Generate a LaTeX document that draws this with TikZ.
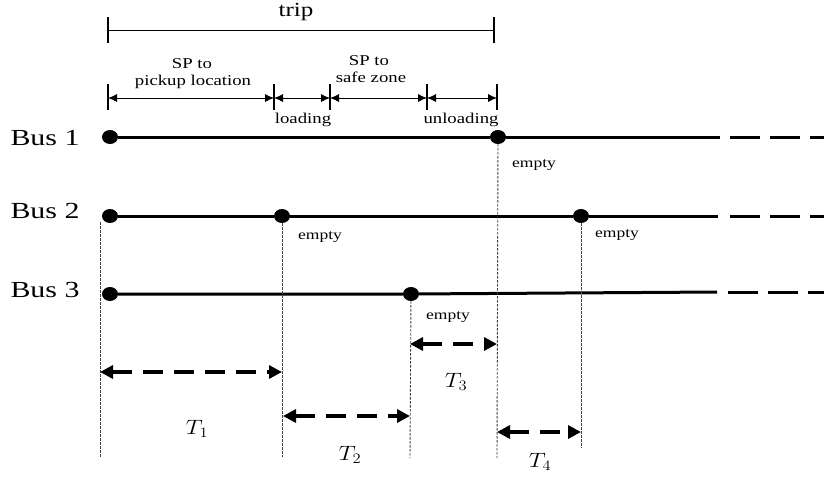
\documentclass[tikz,border=0pt]{standalone}
\usepackage{fontspec}
\setmainfont{Liberation Serif}
\usetikzlibrary{arrows.meta,shapes.geometric}

\tikzset{
  dot/.style={ellipse,fill=black,inner sep=0pt,minimum width=16pt,minimum height=14pt},
  busline/.style={line width=3pt},
  busdash/.style={line width=3pt,dash pattern=on 30pt off 10pt},
  guide/.style={line width=0.9pt,black!75,dash pattern=on 2.5pt off 1.5pt},
  tick/.style={line width=1.8pt},
  seg/.style={line width=0.8pt,{Latex[length=9pt,width=8pt]}-{Latex[length=9pt,width=8pt]}},
  gaparrow/.style={line width=3.5pt,dash pattern=on 20pt off 11pt,
    {Triangle[length=13pt,width=13pt]}-{Triangle[length=13pt,width=13pt]}},
  txt/.style={inner sep=0pt,xscale=1.25,anchor=base},
  buslbl/.style={txt,xscale=1.04,font=\fontsize{23}{26}\selectfont},
  small/.style={txt,font=\fontsize{15}{17}\selectfont},
  emptylbl/.style={txt,font=\fontsize{14}{16}\selectfont},
  tlbl/.style={inner sep=0pt,xscale=1.15,font=\fontsize{22}{26}\selectfont}
}

\begin{document}
\begin{tikzpicture}[x=1pt,y=-1pt]
  \useasboundingbox (0,0) rectangle (824,480);

  % bus labels
  \node[buslbl] (bus1) at (45,145) {Bus 1};
  \node[buslbl] (bus2) at (45,218) {Bus 2};
  \node[buslbl] (bus3) at (45,297) {Bus 3};

  % stops on each bus line
  \node[dot] (b1s) at (110,137) {};
  \node[dot] (b1e) at (498,137) {};
  \node[dot] (b2s) at (110,216) {};
  \node[dot] (b2a) at (282,216) {};
  \node[dot] (b2b) at (581,216) {};
  \node[dot] (b3s) at (110,294) {};
  \node[dot] (b3a) at (411,294) {};

  \coordinate (b1c) at (720,137);
  \coordinate (b1d) at (730,137);
  \coordinate (b1f) at (824,137);
  \coordinate (b2c) at (718,216);
  \coordinate (b2d) at (730,216);
  \coordinate (b2f) at (824,216);
  \coordinate (b3c) at (717,292);
  \coordinate (b3d) at (728,292);
  \coordinate (b3f) at (824,292);

  % draw bus lines
  \draw[busline] (b1s) -- (b1e) -- (b1c);
  \draw[busdash] (b1d) -- (b1f);
  \draw[busline] (b2s) -- (b2a) -- (b2b) -- (b2c);
  \draw[busdash] (b2d) -- (b2f);
  \draw[busline] (b3s) -- (b3a) -- (b3c);
  \draw[busdash] (b3d) -- (b3f);

  % empty labels
  \node[emptylbl] (e1) at (534,167) {empty};
  \node[emptylbl] (e2) at (320,239) {empty};
  \node[emptylbl] (e3) at (617,237) {empty};
  \node[emptylbl] (e4) at (448,319) {empty};

  % trip bracket
  \coordinate (ta) at (108,30);
  \coordinate (tb) at (494,30);
  \draw[tick] (ta) +(0,-13) -- +(0,13);
  \draw[tick] (tb) +(0,-13) -- +(0,13);
  \draw[line width=0.8pt] (ta) -- (tb);
  \node[txt,font=\fontsize{20}{24}\selectfont] (trip) at (296,16) {trip};

  % phases of one trip
  \foreach \n/\x in {a/108,b/274,c/330,d/427,e/497}
    \coordinate (s\n) at (\x,98);
  \foreach \n in {a,b,c,d,e}
    \draw[tick] (s\n) +(0,-14) -- +(0,12);
  \draw[seg] (sa) -- (sb);
  \draw[seg] (sb) -- (sc);
  \draw[seg] (sc) -- (sd);
  \draw[seg] (sd) -- (se);

  \node[small] (p1a) at (192,68) {SP to};
  \node[small] (p1b) at (193,85) {pickup location};
  \node[small] (p3a) at (369,65) {SP to};
  \node[small] (p3b) at (371,82) {safe zone};
  \node[small] (p2) at (303,123) {loading};
  \node[small] (p4) at (461,123) {unloading};

  % guide lines
  \coordinate (v1t) at (100,222);
  \coordinate (v1b) at (100,457);
  \coordinate (v2b) at (282,457);
  \coordinate (v3b) at (410,458);
  \coordinate (v4b) at (497,458);
  \coordinate (v5b) at (581,448);
  \draw[guide] (v1t) -- (v1b);
  \draw[guide] (b2a) -- (v2b);
  \draw[guide] (b3a) -- (v3b);
  \draw[guide] (b1e) -- (v4b);
  \draw[guide] (b2b) -- (v5b);

  % time gaps
  \coordinate (g1l) at (100,372);
  \coordinate (g1r) at (282,372);
  \coordinate (g2l) at (283,416);
  \coordinate (g2r) at (410,416);
  \coordinate (g3l) at (410,344);
  \coordinate (g3r) at (497,344);
  \coordinate (g4l) at (497,432);
  \coordinate (g4r) at (581,432);
  \draw[gaparrow] (g1l) -- (g1r);
  \draw[gaparrow] (g2l) -- (g2r);
  \draw[gaparrow] (g3l) -- (g3r);
  \draw[gaparrow] (g4l) -- (g4r);

  \node[tlbl] (t1) at (197,429) {$T_1$};
  \node[tlbl] (t2) at (350,455) {$T_2$};
  \node[tlbl] (t3) at (456,382) {$T_3$};
  \node[tlbl] (t4) at (540,462) {$T_4$};
\end{tikzpicture}
\end{document}
